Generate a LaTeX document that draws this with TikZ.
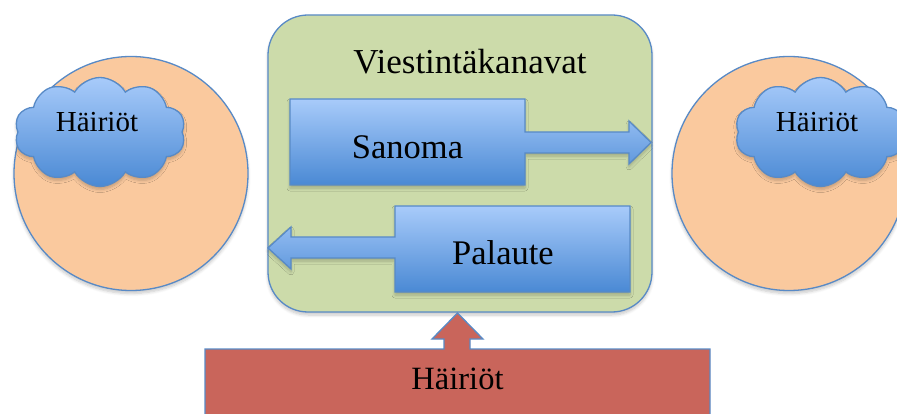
\documentclass[tikz,border=0pt]{standalone}
\usepackage{fontspec}
\setmainfont{Liberation Serif}
\usetikzlibrary{shapes.symbols,shadows.blur}

\definecolor{edgeblue}{RGB}{88,138,198}
\definecolor{peach}{RGB}{250,201,158}
\definecolor{sage}{RGB}{204,219,170}
\definecolor{brick}{RGB}{201,101,91}
\definecolor{skytop}{RGB}{168,203,250}
\definecolor{skybot}{RGB}{74,137,212}

\tikzset{
  outline/.style={draw=edgeblue, line width=1.3pt},
  softshadow/.style={blur shadow={shadow blur steps=6, shadow xshift=0pt, shadow yshift=-3pt, shadow opacity=22, shadow blur radius=3pt}},
  bluefill/.style={top color=skytop, bottom color=skybot},
  person/.style={outline, fill=peach, circle, minimum size=234pt, inner sep=0pt, softshadow},
  noise/.style={outline, bluefill, cloud, cloud puffs=10, cloud puff arc=120, aspect=1.57,
    minimum width=171pt, minimum height=109pt, inner sep=0pt, softshadow},
  label/.style={font=\fontsize{34.5}{40}\selectfont, inner sep=0pt},
  cloudlabel/.style={font=\fontsize{29}{34}\selectfont, inner sep=0pt},
}

\begin{document}
\begin{tikzpicture}[x=1pt, y=-1pt]
  \useasboundingbox (0,0) rectangle (897,414);

  % sender and receiver
  \node[person] (sender) at (131,173.5) {};
  \node[person] (receiver) at (789,173.5) {};

  % disturbances around sender and receiver
  \node[noise] (noiseL) at (100,132) {};
  \node[cloudlabel] (noiseLtxt) at (97,122) {Häiriöt};
  \node[noise] (noiseR) at (820.5,132) {};
  \node[cloudlabel] (noiseRtxt) at (817,122) {Häiriöt};

  % channel
  \draw[outline, fill=sage, rounded corners=40pt, softshadow] (268,15) rectangle (652,312);
  \node[label, font=\fontsize{35}{40}\selectfont] (channel) at (470,62) {Viestintäkanavat};

  % message arrow callout
  \path[outline, bluefill, softshadow]
    (290,99) -- (525,99) -- (525,132) -- (629,132) -- (629,121) -- (651,142.5)
    -- (629,164) -- (629,153) -- (525,153) -- (525,185) -- (290,185) -- cycle;
  \node[label] (message) at (407.5,147) {Sanoma};

  % feedback arrow callout
  \path[outline, bluefill, softshadow]
    (630,206) -- (630,292) -- (395,292) -- (395,258) -- (291,258) -- (291,269)
    -- (268,248) -- (291,227) -- (291,237) -- (395,237) -- (395,206) -- cycle;
  \node[label] (feedback) at (503,253) {Palaute};

  % external disturbance pushing on the channel
  \path[outline, fill=brick]
    (205,440) -- (205,349) -- (444,349) -- (444,339) -- (432,339) -- (457.5,313)
    -- (483,339) -- (470,339) -- (470,349) -- (710,349) -- (710,440) -- cycle;
  \node[label, font=\fontsize{32.5}{38}\selectfont] (noiseB) at (457.5,379) {Häiriöt};
\end{tikzpicture}
\end{document}
